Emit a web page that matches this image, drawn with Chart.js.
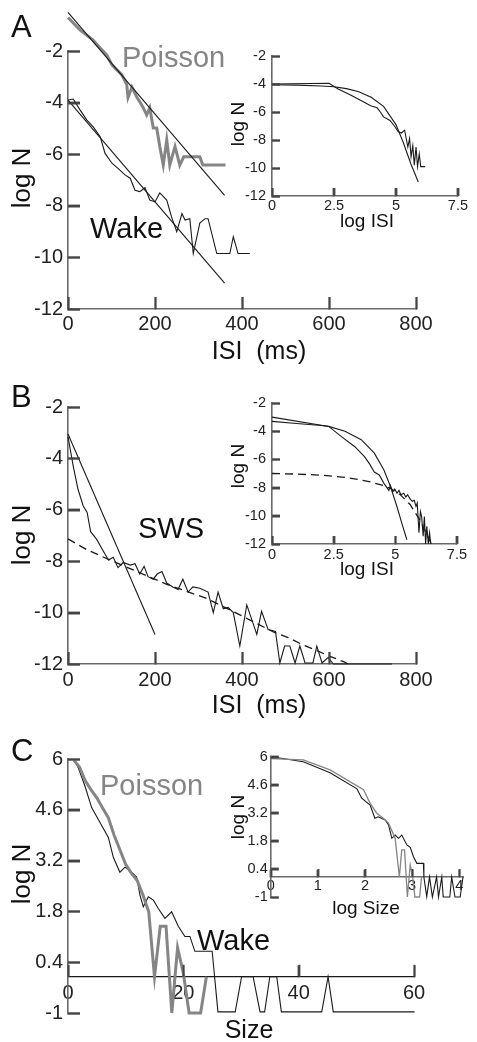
<!DOCTYPE html>
<html>
<head>
<meta charset="utf-8">
<script src="https://cdn.jsdelivr.net/npm/chart.js@4.4.1/dist/chart.umd.min.js"></script>
<style>
  body { margin: 0; background: #fff; }
  #wrap { position: relative; width: 477px; height: 1042px; }
  canvas { position: absolute; left: 0; top: 0; }
</style>
</head>
<body>
<div id="wrap">
  <canvas id="aMain" width="477" height="1042"></canvas>
  <canvas id="aIn" width="477" height="1042"></canvas>
  <canvas id="bMain" width="477" height="1042"></canvas>
  <canvas id="bIn" width="477" height="1042"></canvas>
  <canvas id="cMain" width="477" height="1042"></canvas>
  <canvas id="cIn" width="477" height="1042"></canvas>
</div>
<script>
// ---- tick labels ----
const isiTicks = [0, 200, 400, 600, 800];
const logNTicks = [-2, -4, -6, -8, -10, -12];
const logIsiTicks = [0, 2.5, 5, 7.5];
const sizeTicks = [0, 20, 40, 60];
const logSizeTicks = [0, 1, 2, 3, 4];
const logNSizeTicks = [6, 4.6, 3.2, 1.8, 0.4, -1];

// ---- panel A (wake) ----
const aPoissonIsi = [0, 28, 57, 74, 89, 101, 124, 135, 138, 147, 158, 165, 172, 181, 188, 196, 204, 211, 219, 227, 234, 246, 257, 266, 303, 310, 362];
const aPoissonLog = [-0.7, -1.19, -1.57, -1.88, -2.15, -2.54, -2.93, -3.3, -3.8, -3.4, -3.78, -3.97, -4.17, -4.48, -4.2, -4.98, -4.98, -5.7, -6.42, -5.45, -6.42, -5.7, -6.42, -6.1, -6.1, -6.42, -6.42];
const aPoissonFitIsi = [0, 360];
const aPoissonFitLog = [-0.5, -7.6];
const aWakeIsi = [0, 12, 28, 43, 58, 74, 85, 101, 115, 131, 143, 154, 165, 177, 188, 200, 211, 227, 238, 250, 262, 269, 280, 288, 303, 315, 322, 342, 372, 380, 391, 418];
const aWakeLog = [-3.9, -3.86, -4.29, -4.67, -4.94, -5.32, -5.96, -6.35, -6.55, -6.8, -6.93, -7.4, -7.45, -7.3, -7.78, -7.85, -7.5, -7.78, -8.43, -9.0, -8.3, -8.55, -8.5, -9.85, -8.67, -8.5, -8.5, -9.85, -9.85, -9.2, -9.85, -9.85];
const aWakeFitIsi = [0, 360];
const aWakeFitLog = [-3.9, -11.0];
// inset A (log-log)
const aInFitX = [0, 1, 2, 2.5, 3, 3.5, 4, 4.5, 5, 5.3, 5.6, 5.9];
const aInFitY = [-4.05, -4.08, -4.14, -4.2, -4.33, -4.55, -4.95, -5.6, -6.9, -8.2, -9.7, -11.0];
const aInDataX = [0, 2.3, 2.67, 3.19, 3.72, 3.98, 4.24, 4.37, 4.5, 4.76, 4.96, 5.09, 5.22, 5.35, 5.48, 5.55, 5.61, 5.68, 5.74, 5.81, 5.87, 5.94, 6.0, 6.18];
const aInDataY = [-4.0, -3.95, -4.35, -4.8, -5.3, -5.55, -5.7, -6.0, -6.35, -6.6, -7.05, -7.4, -7.5, -7.3, -8.5, -7.9, -9.2, -8.4, -9.8, -8.5, -9.9, -9.0, -9.9, -9.9];

// ---- panel B (SWS) ----
const bFitIsi = [0, 200];
const bFitLog = [-3.05, -10.85];
const bTailIsi = [0, 43, 96, 165, 227, 319, 380, 472, 506, 538, 575, 602, 632, 645];
const bTailLog = [-7.13, -7.55, -7.95, -8.45, -8.9, -9.45, -9.96, -10.75, -10.97, -11.24, -11.5, -11.7, -11.9, -12];
const bSwsIsi = [0, 12, 23, 35, 44, 52, 66, 81, 93, 104, 115, 127, 143, 154, 165, 175, 184, 196, 205, 216, 227, 241, 253, 264, 276, 287, 303, 322, 334, 345, 357, 368, 380, 395, 411, 434, 445, 460, 477, 487, 498, 510, 522, 533, 545, 563, 572, 584, 598, 610, 745];
const bSwsLog = [-3.15, -4.3, -5.2, -5.85, -6.1, -6.85, -7.15, -7.6, -7.95, -7.85, -8.25, -8.05, -8.15, -8.1, -8.5, -8.2, -8.6, -8.7, -8.5, -8.4, -8.85, -9.0, -9.1, -8.7, -9.2, -9.0, -9.05, -9.2, -10.0, -9.2, -9.85, -9.8, -10.0, -11.3, -9.7, -10.85, -9.95, -10.66, -10.73, -11.96, -11.3, -11.3, -11.96, -11.3, -11.96, -11.96, -11.3, -11.96, -11.75, -12, -12];
// inset B
const bInFitX = [0, 1, 2, 2.3, 2.96, 3.62, 4.15, 4.54, 4.8, 5.07, 5.27, 5.47];
const bInFitY = [-3.3, -3.45, -3.6, -3.66, -4.0, -4.6, -5.56, -6.75, -7.9, -9.36, -10.55, -11.7];
const bInDataX = [0, 2.3, 2.83, 3.36, 3.75, 3.95, 4.15, 4.35, 4.54, 4.74, 4.8, 4.9, 4.98, 5.07, 5.15, 5.23, 5.34, 5.43, 5.5, 5.6, 5.69, 5.77, 5.84, 5.89, 5.96, 6.02, 6.07, 6.13, 6.18, 6.23, 6.28, 6.34, 6.39, 6.44];
const bInDataY = [-3.0, -3.66, -4.4, -5.1, -5.8, -6.3, -6.9, -7.1, -7.7, -8.2, -7.85, -8.3, -8.1, -8.4, -8.2, -8.5, -8.4, -8.67, -8.5, -8.8, -8.97, -8.9, -9.33, -9.1, -11.2, -9.7, -10.05, -11.45, -10.05, -12, -10.75, -12, -11.2, -12];
const bInTailX = [0, 1, 2, 3, 3.5, 4, 4.5, 4.8, 5.2, 5.6, 6.0, 6.46];
const bInTailY = [-7.0, -7.04, -7.12, -7.28, -7.42, -7.6, -7.85, -8.05, -8.5, -9.2, -10.3, -12];

// ---- panel C (burst size) ----
const cPoissonSize = [1, 2, 3, 4, 5, 6, 7, 8, 9, 10, 11, 12, 13, 14, 15, 16, 17, 18, 19, 20, 21, 22, 23, 24];
const cPoissonLog = [5.97, 5.78, 5.4, 5.15, 4.93, 4.65, 4.38, 3.9, 3.5, 3.1, 2.85, 2.65, 2.25, 1.79, 0.0, 1.39, 1.39, -1, 0.8, 0.1, -1, -1, -1, 0];
const cWakeSize = [1, 1.8, 2.95, 4.1, 5.55, 7.0, 7.86, 9.0, 9.88, 11.03, 11.9, 12.48, 13.06, 13.93, 14.8, 15.66, 16.81, 17.97, 19.12, 20.28, 21.14, 22.0, 25.0, 26.0, 29.0, 30.1, 32.1, 33.3, 34.1, 35.0, 36.2, 37.0, 44.0, 45.1, 46.0, 60.1, 61.0];
const cWakeLog = [6.0, 5.75, 5.25, 4.66, 4.25, 3.84, 3.29, 2.88, 3.02, 2.88, 2.75, 2.25, 1.93, 2.2, 2.11, 1.88, 1.61, 1.79, 1.39, 1.11, 1.11, 0.7, 0.7, -0.97, -0.97, 0, 0, -0.97, -0.97, 0, 0, -0.97, -0.97, 0, -0.97, -0.97, 0];
// inset C
const cInWakeX = [0.02, 0.69, 1.26, 1.83, 1.93, 2.11, 2.21, 2.28, 2.43, 2.5, 2.57, 2.64, 2.71, 2.78, 2.89, 2.96, 3.03, 3.1, 3.24, 3.25, 3.31, 3.37, 3.43, 3.52, 3.56, 3.63, 3.66, 3.8, 3.84, 3.91, 4.02, 4.08];
const cInWakeY = [6.0, 5.75, 5.2, 4.4, 3.93, 3.59, 2.93, 3.0, 2.84, 2.6, 1.93, 2.09, 1.93, 2.09, 1.6, 1.48, 1.01, 0.68, 0.68, 0, -0.98, 0, -1, 0, -1, 0, -1, -1, 0, -1, -1, 0];
const cInPoissonX = [0, 0.69, 1.26, 1.97, 2.11, 2.25, 2.39, 2.5, 2.64, 2.73, 2.78, 2.84, 2.9, 2.96, 3.01, 3.06, 3.16, 3.2];
const cInPoissonY = [5.9, 5.84, 5.34, 4.35, 3.67, 3.18, 2.93, 2.68, 1.93, 0, 1.35, 1.35, -1, 0.6, 0, -1, -1, 0];

const FONT = '"Liberation Sans", Arial, Helvetica, sans-serif';
Chart.defaults.font.family = FONT;
const BLACK = '#1a1a1a', GRAY = '#858585', AXIS = '#6a6a6a', TICK = '#454545';

function pts(xs, ys) { return xs.map((x, i) => ({ x: x, y: ys[i] })); }
function line(xs, ys, color, width, dash) {
  return { data: pts(xs, ys), borderColor: color, borderWidth: width, borderDash: dash || [], clip: false, fill: false };
}

// free text (titles, letters, curve names) + inward ticks as a backup layer
function decor(items, len) {
  return {
    id: 'decor',
    afterDraw(chart) {
      const ctx = chart.ctx;
      const a = chart.chartArea;
      const sx = chart.scales.x, sy = chart.scales.y;
      const xAxisY = typeof sx.options.position === 'object' ? sy.getPixelForValue(0) : a.bottom;
      ctx.save();
      ctx.strokeStyle = TICK;
      ctx.lineWidth = 1.8;
      ctx.beginPath();
      sy.ticks.forEach(t => {
        const py = Math.round(sy.getPixelForValue(t.value)) + 0.5;
        ctx.moveTo(a.left, py); ctx.lineTo(a.left + len, py);
      });
      sx.ticks.forEach(t => {
        const px = Math.round(sx.getPixelForValue(t.value)) + 0.5;
        ctx.moveTo(px, xAxisY); ctx.lineTo(px, xAxisY - len);
      });
      ctx.stroke();
      ctx.restore();
      items.forEach(n => {
        ctx.save();
        ctx.font = n.size + 'px ' + FONT;
        ctx.fillStyle = n.color || '#111';
        ctx.textAlign = n.align || 'left';
        ctx.textBaseline = 'alphabetic';
        ctx.translate(n.x, n.y);
        if (n.rot) ctx.rotate(-Math.PI / 2);
        ctx.fillText(n.text, 0, 0);
        ctx.restore();
      });
    }
  };
}

function makeChart(id, box, sx, sy, datasets, items, tickLen) {
  const yW = 40, xH = 30;
  const xObj = typeof sx.position === 'object';
  // library tick marks turned inward with a negative length; label padding makes up for it
  const grid = { display: true, drawOnChartArea: false, drawTicks: true, tickLength: -tickLen, tickColor: TICK, tickWidth: 1.8 };
  return new Chart(document.getElementById(id), {
    type: 'line',
    data: { datasets: datasets },
    options: {
      responsive: false,
      animation: false,
      events: [],
      layout: { padding: { left: box.l - yW, top: box.t, right: 477 - box.r, bottom: 1042 - box.b - (xObj ? 0 : xH) } },
      elements: { point: { radius: 0 }, line: { tension: 0 } },
      plugins: { legend: { display: false }, tooltip: { enabled: false } },
      scales: {
        x: {
          type: 'linear', position: sx.position || 'bottom', min: sx.min, max: sx.max,
          afterFit: s => { s.height = xH; },
          afterBuildTicks: s => { s.ticks = sx.ticks.map(v => ({ value: v })); },
          grid: grid,
          border: { display: true, color: sx.border || AXIS, width: sx.bw || 1.6 },
          ticks: { padding: sx.pad + tickLen, color: '#222', font: { size: sx.fs }, autoSkip: false, maxRotation: 0, callback: v => String(v) }
        },
        y: {
          type: 'linear', min: sy.min, max: sy.max,
          afterFit: s => { s.width = yW; },
          afterBuildTicks: s => { s.ticks = sy.ticks.map(v => ({ value: v })); },
          grid: grid,
          border: { display: true, color: AXIS, width: 1.6 },
          ticks: { padding: sy.pad + tickLen, color: '#222', font: { size: sy.fs }, autoSkip: false, callback: v => String(v) }
        }
      }
    },
    plugins: [decor(items, tickLen)]
  });
}

// Panel A
makeChart('aMain', { l: 68, t: 51, r: 416, b: 309 },
  { min: 0, max: 800, ticks: isiTicks, pad: 3, fs: 20 },
  { min: -12, max: -2, ticks: logNTicks, pad: 5, fs: 20 },
  [
    line(aPoissonFitIsi, aPoissonFitLog, BLACK, 1.1),
    line(aWakeFitIsi, aWakeFitLog, BLACK, 1.1),
    line(aPoissonIsi, aPoissonLog, GRAY, 3),
    line(aWakeIsi, aWakeLog, BLACK, 1.1)
  ],
  [
    { text: 'A', x: 11, y: 37, size: 31 },
    { text: 'Poisson', x: 122, y: 67, size: 29, color: GRAY },
    { text: 'Wake', x: 90, y: 238, size: 29 },
    { text: 'log N', x: 30, y: 178, size: 26, rot: true, align: 'center' },
    { text: 'ISI  (ms)', x: 259, y: 359, size: 25, align: 'center' }
  ], 12);

makeChart('aIn', { l: 272, t: 56, r: 462, b: 196 },
  { min: 0, max: 7.5, ticks: logIsiTicks, pad: 1, fs: 14.5 },
  { min: -12, max: -2, ticks: logNTicks, pad: 6, fs: 14.5 },
  [
    line(aInFitX, aInFitY, BLACK, 1.1),
    line(aInDataX, aInDataY, BLACK, 1.1)
  ],
  [
    { text: 'log N', x: 244, y: 124, size: 19, rot: true, align: 'center' },
    { text: 'log ISI', x: 367, y: 227, size: 19, align: 'center' }
  ], 8);

// Panel B
makeChart('bMain', { l: 68, t: 407, r: 416, b: 664 },
  { min: 0, max: 800, ticks: isiTicks, pad: 4, fs: 20 },
  { min: -12, max: -2, ticks: logNTicks, pad: 5, fs: 20 },
  [
    line(bFitIsi, bFitLog, BLACK, 1.1),
    line(bTailIsi, bTailLog, BLACK, 1.3, [8, 5]),
    line(bSwsIsi, bSwsLog, BLACK, 1.1)
  ],
  [
    { text: 'B', x: 11, y: 407, size: 31 },
    { text: 'SWS', x: 138, y: 538, size: 29 },
    { text: 'log N', x: 30, y: 535, size: 26, rot: true, align: 'center' },
    { text: 'ISI  (ms)', x: 259, y: 713, size: 25, align: 'center' }
  ], 12);

makeChart('bIn', { l: 272, t: 403, r: 462, b: 544 },
  { min: 0, max: 7.5, ticks: logIsiTicks, pad: 2, fs: 14.5 },
  { min: -12, max: -2, ticks: logNTicks, pad: 6, fs: 14.5 },
  [
    line(bInFitX, bInFitY, BLACK, 1.1),
    line(bInTailX, bInTailY, BLACK, 1.3, [8, 5]),
    line(bInDataX, bInDataY, BLACK, 1.1)
  ],
  [
    { text: 'log N', x: 244, y: 466, size: 19, rot: true, align: 'center' },
    { text: 'log ISI', x: 367, y: 575, size: 19, align: 'center' }
  ], 8);

// Panel C
makeChart('cMain', { l: 68, t: 759, r: 414, b: 1016 },
  { min: 0, max: 60, ticks: sizeTicks, pad: 5, fs: 20, position: { y: 0 }, border: BLACK, bw: 1.2 },
  { min: -1, max: 6, ticks: logNSizeTicks, pad: 5, fs: 20 },
  [
    line(cPoissonSize, cPoissonLog, GRAY, 3),
    line(cWakeSize, cWakeLog, BLACK, 1.1)
  ],
  [
    { text: 'C', x: 11, y: 761, size: 31 },
    { text: 'Poisson', x: 100, y: 795, size: 29, color: GRAY },
    { text: 'Wake', x: 197, y: 950, size: 29 },
    { text: 'log N', x: 30, y: 874, size: 26, rot: true, align: 'center' },
    { text: 'Size', x: 249, y: 1038, size: 25, align: 'center' }
  ], 12);

makeChart('cIn', { l: 270.7, t: 756.7, r: 463, b: 897 },
  { min: 0, max: 4.08, ticks: logSizeTicks, pad: 0, fs: 14.5, position: { y: 0 } },
  { min: -1, max: 6, ticks: logNSizeTicks, pad: 3, fs: 14.5 },
  [
    line(cInPoissonX, cInPoissonY, GRAY, 1.3),
    line(cInWakeX, cInWakeY, BLACK, 1.1)
  ],
  [
    { text: 'log N', x: 244, y: 817, size: 19, rot: true, align: 'center' },
    { text: 'log Size', x: 366, y: 914, size: 19, align: 'center' }
  ], 8);
</script>
</body>
</html>
